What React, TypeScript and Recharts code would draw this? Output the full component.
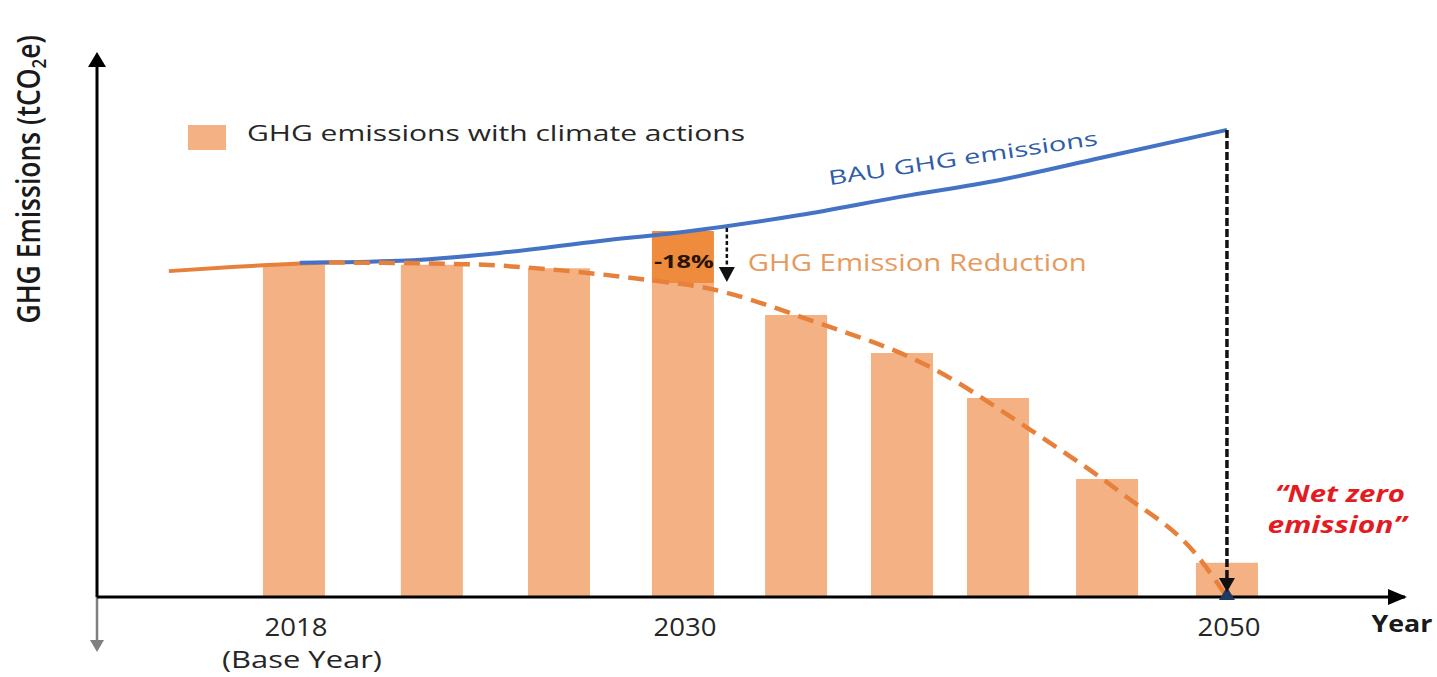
import React from 'react';
import {
  ComposedChart,
  Bar,
  Line,
  XAxis,
  YAxis,
  ReferenceLine,
  ReferenceDot,
  Legend,
} from 'recharts';

// ---- data (schematic timeline, year scale; emissions index, 2018 = 100) ----
const barYears = [2018, 2022.74, 2027.11, 2031.37, 2035.26, 2038.9, 2042.2, 2045.95, 2050.07];
const barEmissions = [100.2, 100.2, 99.2, 94.7, 85.1, 73.6, 60.0, 35.6, 10.3];
const barReduction = [null, null, null, 15.7, null, null, null, null, null];

const bauYears = [2018.2, 2021.64, 2025.08, 2028.52, 2031.37, 2035.39, 2038.83, 2042.27, 2045.71, 2050.07];
const bauValues = [100.8, 101.4, 103.8, 107.4, 110.1, 115.2, 120.7, 125.8, 132.4, 140.9];

const baseYears = [2013.7, 2016.0, 2018.2, 2019.2];
const baseValues = [98.3, 99.6, 100.6, 100.9];

const pathYears = [2019.2, 2023.9, 2027.1, 2030.2, 2032.0, 2035.91, 2039.86, 2043.16, 2046.43, 2049.08, 2050.07];
const pathValues = [100.9, 100.4, 98.6, 95.6, 93.5, 83.0, 69.4, 51.3, 31.4, 12.1, 0];

const tickYears = [2018, 2031.37, 2050.07];
const tickLabels = ['2018', '2030', '2050'];
const tickSubLabels = ['(Base Year)', '', ''];

const X_DOMAIN: [number, number] = [2011.23, 2056.19];
const Y_DOMAIN: [number, number] = [0, 165];

// ---- tables built from the arrays ----
const barTable = barYears.map((x, i) => ({ x, emissions: barEmissions[i], reduction: barReduction[i] }));
const bauTable = bauYears.map((x, i) => ({ x, value: bauValues[i] }));
const baseTable = baseYears.map((x, i) => ({ x, value: baseValues[i] }));
const pathTable = pathYears.map((x, i) => ({ x, value: pathValues[i] }));

const FONT = '"Open Sans", "DejaVu Sans", sans-serif';
const BAR_COLOR = '#F4B183';
const DARK_ORANGE = '#EF8B3D';
const LINE_ORANGE = '#E6803A';
const BLUE = '#4472C4';

const tri = (cx: number, cy: number, dir: 'up' | 'down' | 'right', len: number, half: number, fill: string) => {
  let pts = '';
  if (dir === 'up') pts = `${cx},${cy} ${cx - half},${cy + len} ${cx + half},${cy + len}`;
  if (dir === 'down') pts = `${cx},${cy} ${cx - half},${cy - len} ${cx + half},${cy - len}`;
  if (dir === 'right') pts = `${cx},${cy} ${cx - len},${cy - half} ${cx - len},${cy + half}`;
  return <polygon points={pts} fill={fill} />;
};

const XTick = (props: any) => {
  const { x, y, payload } = props;
  const i = tickYears.indexOf(payload.value);
  return (
    <g>
      <text x={x + 2} y={y + 39} textAnchor="middle" fontFamily={FONT} fontSize={25} fill="#262626"
        textLength={63} lengthAdjust="spacingAndGlyphs">
        {tickLabels[i]}
      </text>
      {tickSubLabels[i] ? (
        <text x={x + 8} y={y + 71} textAnchor="middle" fontFamily={FONT} fontSize={24} fill="#262626"
          textLength={160} lengthAdjust="spacingAndGlyphs">
          {tickSubLabels[i]}
        </text>
      ) : null}
    </g>
  );
};

const LegendContent = () => (
  <svg width={620} height={40} style={{ display: 'block' }}>
    <rect x={0} y={7} width={38} height={25} fill={BAR_COLOR} />
    <text x={59} y={23} fontFamily={FONT} fontSize={22} fill="#262626" textLength={498} lengthAdjust="spacingAndGlyphs">
      GHG emissions with climate actions
    </text>
  </svg>
);

export default function App() {
  return (
    <div style={{ position: 'absolute', left: 0, top: 0, width: 1437, height: 677, background: '#fff' }}>
      <ComposedChart
        width={1437}
        height={677}
        data={barTable}
        margin={{ top: 50, right: 32, bottom: 0, left: 97 }}
      >
        <XAxis
          type="number"
          dataKey="x"
          domain={X_DOMAIN}
          allowDataOverflow
          ticks={tickYears}
          interval={0}
          tick={<XTick />}
          tickLine={false}
          tickSize={0}
          tickMargin={0}
          height={80}
          axisLine={{ stroke: '#000', strokeWidth: 3 }}
        />
        <XAxis xAxisId="bars" type="number" dataKey="x" domain={X_DOMAIN} allowDataOverflow hide />
        <YAxis type="number" domain={Y_DOMAIN} allowDataOverflow hide />
        <Legend
          layout="horizontal"
          verticalAlign="middle"
          align="center"
          content={<LegendContent />}
          wrapperStyle={{ left: 188, top: 118, width: 620, height: 40 }}
        />

        <Bar xAxisId="bars" dataKey="emissions" stackId="a" fill={BAR_COLOR} barSize={62} isAnimationActive={false} />
        <Bar xAxisId="bars" dataKey="reduction" stackId="a" fill={DARK_ORANGE} barSize={62} isAnimationActive={false} />

        {/* y axis line */}
        <ReferenceLine segment={[{ x: X_DOMAIN[0], y: 0 }, { x: X_DOMAIN[0], y: 162 }]} stroke="#000"
          strokeWidth={3} ifOverflow="visible" />

        <Line data={baseTable} dataKey="value" type="monotone" stroke={LINE_ORANGE} strokeWidth={4}
          dot={false} activeDot={false} isAnimationActive={false} />
        <Line data={bauTable} dataKey="value" type="monotone" stroke={BLUE} strokeWidth={4}
          dot={false} activeDot={false} isAnimationActive={false} />
        <Line data={pathTable} dataKey="value" type="monotone" stroke={LINE_ORANGE} strokeWidth={4.5}
          strokeDasharray="16 9" dot={false} activeDot={false} isAnimationActive={false} />

        {/* axis arrows */}
        <ReferenceDot x={X_DOMAIN[0]} y={Y_DOMAIN[1]} r={0} ifOverflow="visible"
          shape={(p: any) => tri(p.cx, p.cy + 2, 'up', 15, 9, '#000')} />
        <ReferenceDot x={X_DOMAIN[1]} y={0} r={0} ifOverflow="visible"
          shape={(p: any) => tri(p.cx + 2, p.cy, 'right', 19, 8, '#000')} />
        <ReferenceLine segment={[{ x: X_DOMAIN[0], y: 0 }, { x: X_DOMAIN[0], y: -13 }]} stroke="#808080"
          strokeWidth={2.5} ifOverflow="visible" />
        <ReferenceDot x={X_DOMAIN[0]} y={-16.6} r={0} ifOverflow="visible"
          shape={(p: any) => tri(p.cx, p.cy, 'down', 12, 7, '#808080')} />

        {/* 2030 reduction arrow */}
        <ReferenceLine segment={[{ x: 2032.88, y: 111.3 }, { x: 2032.88, y: 99.5 }]} stroke="#111"
          strokeWidth={2.5} strokeDasharray="4 2.5" ifOverflow="visible" />
        <ReferenceDot x={2032.88} y={95.0} r={0} ifOverflow="visible"
          shape={(p: any) => tri(p.cx, p.cy, 'down', 15, 8, '#111')} />

        {/* 2050 net-zero arrow */}
        <ReferenceLine segment={[{ x: 2050.07, y: bauValues[bauValues.length - 1] }, { x: 2050.07, y: 5.5 }]}
          stroke="#111" strokeWidth={3.5} strokeDasharray="8 3" ifOverflow="visible" />
        <ReferenceDot x={2050.07} y={0} r={0} ifOverflow="visible"
          shape={(p: any) => tri(p.cx, p.cy - 10, 'up', 13, 8, '#1F3864')} />
        <ReferenceDot x={2050.07} y={1.5} r={0} ifOverflow="visible"
          shape={(p: any) => tri(p.cx, p.cy, 'down', 14, 8, '#111')} />

        {/* text annotations */}
        <ReferenceDot x={X_DOMAIN[0]} y={126} r={0} ifOverflow="visible"
          shape={(p: any) => (
            <text transform={`translate(${p.cx - 57},${p.cy}) rotate(-90) scale(1,1.2)`} textAnchor="middle"
              fontFamily={FONT} fontWeight={600} fontSize={26.5} fill="#1a1a1a">
              GHG Emissions (tCO<tspan fontSize={17} dy={5}>2</tspan><tspan dy={-5}>e)</tspan>
            </text>
          )} />
        <ReferenceDot x={X_DOMAIN[1]} y={0} r={0} ifOverflow="visible"
          shape={(p: any) => (
            <text x={p.cx - 3} y={p.cy + 35} textAnchor="middle" fontFamily={FONT} fontWeight={700}
              fontSize={24} fill="#1a1a1a" textLength={61} lengthAdjust="spacingAndGlyphs">
              Year
            </text>
          )} />
        <ReferenceDot x={2041.03} y={130.3} r={0} ifOverflow="visible"
          shape={(p: any) => (
            <text transform={`translate(${p.cx},${p.cy}) rotate(-8.5)`} textAnchor="middle" fontFamily={FONT}
              fontSize={20} fill="#2F5DA8" textLength={272} lengthAdjust="spacingAndGlyphs">
              BAU GHG emissions
            </text>
          )} />
        <ReferenceDot x={2033.6} y={98.3} r={0} ifOverflow="visible"
          shape={(p: any) => (
            <text x={p.cx} y={p.cy} fontFamily={FONT} fontSize={23} fill="#E69A5E" textLength={339}
              lengthAdjust="spacingAndGlyphs">
              GHG Emission Reduction
            </text>
          )} />
        <ReferenceDot x={2031.37} y={99.2} r={0} ifOverflow="visible"
          shape={(p: any) => (
            <text x={p.cx + 1} y={p.cy} textAnchor="middle" fontFamily={FONT} fontWeight={700} fontSize={18}
              fill="#2A1405" textLength={60} lengthAdjust="spacingAndGlyphs">
              -18%
            </text>
          )} />
        <ReferenceDot x={2053.85} y={28.6} r={0} ifOverflow="visible"
          shape={(p: any) => (
            <g>
              <text x={p.cx + 3} y={p.cy} textAnchor="middle" fontFamily={FONT} fontWeight={700} fontStyle="italic"
                fontSize={24} fill="#E31B23" textLength={130} lengthAdjust="spacingAndGlyphs">
                “Net zero
              </text>
              <text x={p.cx} y={p.cy + 31} textAnchor="middle" fontFamily={FONT} fontWeight={700} fontStyle="italic"
                fontSize={24} fill="#E31B23" textLength={139} lengthAdjust="spacingAndGlyphs">
                emission”
              </text>
            </g>
          )} />
      </ComposedChart>
    </div>
  );
}
